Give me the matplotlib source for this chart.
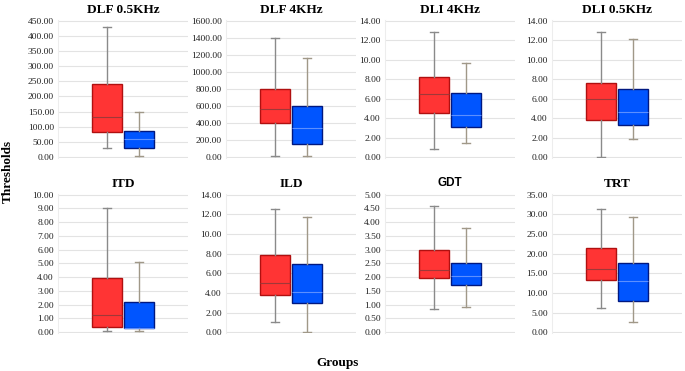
import matplotlib
matplotlib.use("Agg")
import matplotlib.pyplot as plt
import numpy as np

# panel titles and y tick ranges
titles = ["DLF 0.5KHz", "DLF 4KHz", "DLI 4KHz", "DLI 0.5KHz", "ITD", "ILD", "GDT", "TRT"]
ymax = [450, 1600, 14, 14, 10, 14, 5, 35]
ystep = [50, 200, 2, 2, 1, 2, 0.5, 5]

# box statistics: whisker low, Q1, median, Q3, whisker high
red_low = [30, 8, 0.8, 0.0, 0.05, 1.0, 0.86, 6.1]
red_q1 = [82, 401, 4.53, 3.86, 0.41, 3.75, 1.97, 13.2]
red_med = [131, 561, 6.44, 6.0, 1.24, 4.96, 2.25, 16.1]
red_q3 = [240, 802, 8.2, 7.55, 3.92, 7.87, 3.0, 21.3]
red_high = [428, 1390, 12.86, 12.82, 9.0, 12.5, 4.6, 31.25]

blue_low = [3, 8, 1.41, 1.85, 0.07, 0.0, 0.93, 2.7]
blue_q1 = [31, 149, 3.09, 3.25, 0.31, 3.01, 1.72, 8.0]
blue_med = [61, 340, 4.36, 4.6, 0.31, 4.12, 2.03, 13.0]
blue_q3 = [87, 600, 6.6, 7.0, 2.22, 6.93, 2.51, 17.6]
blue_high = [149, 1157, 9.63, 12.1, 5.1, 11.72, 3.79, 29.2]

W, H = 685, 371
fig = plt.figure(figsize=(W / 100, H / 100), dpi=100)

serif = ["Liberation Serif", "DejaVu Serif"]
lefts = [58, 226, 385, 552]
width = 130
tops = [20, 194]
heights = [138, 139]


def stats(low, q1, med, q3, high):
    return {"whislo": low, "q1": q1, "med": med, "q3": q3, "whishi": high, "fliers": []}


for i, title in enumerate(titles):
    row, col = divmod(i, 4)
    x0 = lefts[col]
    y0 = tops[row] + heights[row]
    ax = fig.add_axes([x0 / W, 1 - y0 / H, width / W, heights[row] / H])

    s_red = stats(red_low[i], red_q1[i], red_med[i], red_q3[i], red_high[i])
    s_blue = stats(blue_low[i], blue_q1[i], blue_med[i], blue_q3[i], blue_high[i])

    ax.bxp([s_red], positions=[0.375], widths=0.23, patch_artist=True, showfliers=False,
           capwidths=0.065,
           boxprops=dict(facecolor="#FF3434", edgecolor="#B01010", linewidth=1.0),
           medianprops=dict(color="#A03838", linewidth=0.8),
           whiskerprops=dict(color="#8A8A8A", linewidth=1.0),
           capprops=dict(color="#8A8A8A", linewidth=1.0))
    ax.bxp([s_blue], positions=[0.625], widths=0.23, patch_artist=True, showfliers=False,
           capwidths=0.065,
           boxprops=dict(facecolor="#0055FF", edgecolor="#001880", linewidth=1.0),
           medianprops=dict(color="#5C8FFF", linewidth=0.8),
           whiskerprops=dict(color="#A09888", linewidth=1.0),
           capprops=dict(color="#A09888", linewidth=1.0))

    ticks = np.arange(0, ymax[i] + ystep[i] / 2, ystep[i])
    ax.set_yticks(ticks)
    ax.set_yticklabels(["%.2f" % t for t in ticks], fontsize=6.8, family=serif, color="#222222")
    ax.set_ylim(-ymax[i] * 0.006, ymax[i] * 1.004)
    ax.set_xlim(0, 1)
    ax.set_xticks([])
    ax.tick_params(axis="y", length=0, pad=3)
    ax.yaxis.grid(True, color="#E3E3E3", linewidth=0.8)
    ax.set_axisbelow(True)
    for side in ["top", "right", "bottom"]:
        ax.spines[side].set_visible(False)
    ax.spines["left"].set_color("#EDEDED")
    ax.spines["left"].set_linewidth(0.8)

    if title == "GDT":
        ax.set_title(title, fontsize=8.5, fontweight="bold", family=["Liberation Sans", "DejaVu Sans"], pad=6)
    else:
        ax.set_title(title, fontsize=9.5, fontweight="bold", family=serif, pad=5)

fig.text(8 / W, 1 - 171 / H, "Thresholds", rotation=90, ha="center", va="center",
         fontsize=9.5, fontweight="bold", family=serif)
fig.text(338 / W, 1 - 363 / H, "Groups", ha="center", va="center",
         fontsize=9.5, fontweight="bold", family=serif)

fig.savefig("out.png", dpi=100, facecolor="white")
